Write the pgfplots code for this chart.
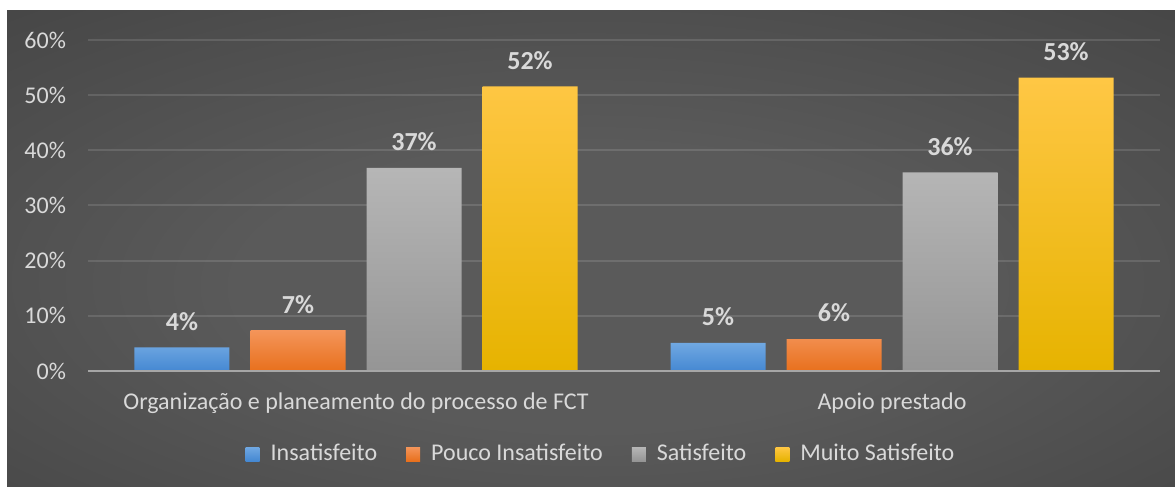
\documentclass[border=0pt]{standalone}
\usepackage{fontspec}
\setmainfont{Carlito}
\usepackage{pgfplots}
\pgfplotsset{compat=1.18}
\definecolor{bgin}{HTML}{5A5A5A}
\definecolor{bgout}{HTML}{262626}
\definecolor{txt}{HTML}{D9D9D9}
\definecolor{axgray}{HTML}{A6A6A6}
\definecolor{blueT}{HTML}{70A8E2}
\definecolor{blueB}{HTML}{4588D2}
\definecolor{oraT}{HTML}{F4955A}
\definecolor{oraB}{HTML}{E8701D}
\definecolor{grayT}{HTML}{B6B6B6}
\definecolor{grayB}{HTML}{959595}
\definecolor{yelT}{HTML}{FFC745}
\definecolor{yelB}{HTML}{E6B300}
\pgfdeclareradialshading{bgshade}{\pgfpoint{0bp}{-5bp}}{color(0bp)=(bgin); color(15bp)=(bgin); color(75bp)=(bgout)}
\begin{document}
\begin{tikzpicture}
\fill[white] (0,0) rectangle (587.5pt,243.5pt);
\shade[shading=bgshade] (3.5pt,0) rectangle (587.5pt,238pt);
\begin{axis}[
  at={(44pt,58pt)}, anchor=south west,
  scale only axis, width=536pt, height=165.5pt,
  xmin=-0.5, xmax=1.5, ymin=0, ymax=60,
  ybar=10.5pt, bar width=47.5pt,
  clip=false,
  axis line style={draw=none},
  major tick length=0pt,
  ytick={0,10,...,60},
  yticklabel={\pgfmathprintnumber{\tick}\%},
  /pgf/number format/assume math mode=true,
  ymajorgrids,
  grid style={white, opacity=0.12, line width=1pt},
  xtick={0,1},
  xticklabels={Organização e planeamento do processo de FCT, Apoio prestado},
  xticklabel style={anchor=center, yshift=-16pt, text=txt, font=\fontsize{12}{14}\selectfont},
  yticklabel style={text=txt, font=\fontsize{12}{14}\selectfont, xshift=-7.5pt},
  nodes near coords={\pgfmathprintnumber[fixed,precision=0]{\pgfplotspointmeta}\%},
  nodes near coords style={anchor=center, yshift=13pt, text=txt, font=\fontsize{13}{15}\selectfont\bfseries, /pgf/number format/assume math mode=true},
  legend columns=4,
  legend style={draw=none, fill=none, at={(0.4795,-0.2508)}, anchor=center,
    font=\fontsize{12}{14}\selectfont, text=txt,
    /tikz/every even column/.append style={column sep=12.5pt}},
  legend image code/.code={\fill[#1] (0pt,-3.5pt) rectangle (7pt,3.5pt); \path (10.5pt,0pt);},
]
\addplot[draw=none, top color=blueT, bottom color=blueB] coordinates {(0,4.3) (1,5.1)};
\addplot[draw=none, top color=oraT, bottom color=oraB] coordinates {(0,7.4) (1,5.8)};
\addplot[draw=none, top color=grayT, bottom color=grayB] coordinates {(0,36.8) (1,36.0)};
\addplot[draw=none, top color=yelT, bottom color=yelB] coordinates {(0,51.6) (1,53.2)};
\legend{Insatisfeito, Pouco Insatisfeito, Satisfeito, Muito Satisfeito}
\draw[axgray, line width=1.25pt] (rel axis cs:0,0) -- (rel axis cs:1,0);
\end{axis}
\end{tikzpicture}
\end{document}
